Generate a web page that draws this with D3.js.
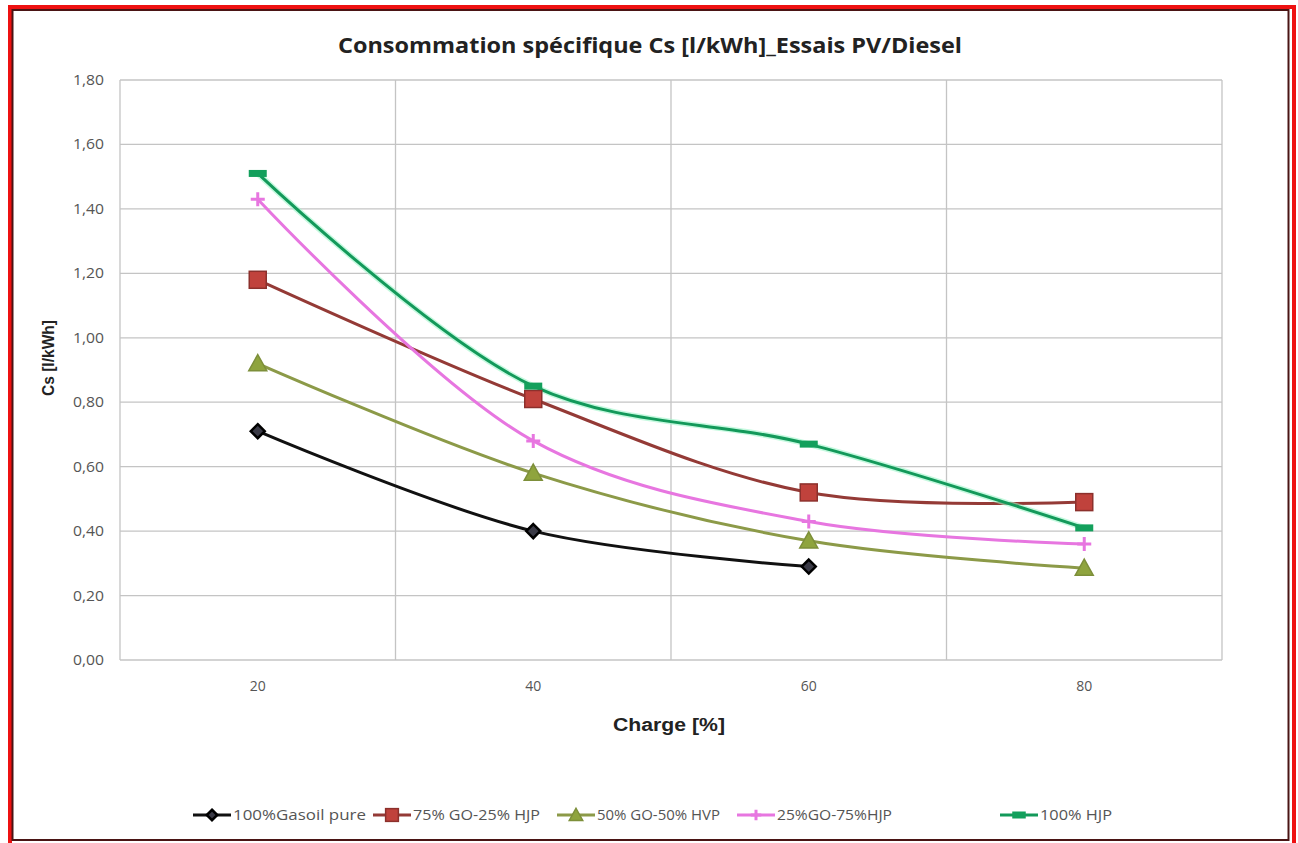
<!DOCTYPE html>
<html>
<head>
<meta charset="utf-8">
<script src="https://cdn.jsdelivr.net/npm/d3@7"></script>
<style>
  body { margin: 0; background: #fff; }
  text { font-family: "Open Sans", "Liberation Sans", sans-serif; }
</style>
</head>
<body>
<div id="chart"></div>
<script>
// data
var categories = ["20", "40", "60", "80"];
var yTicks = [0, 0.2, 0.4, 0.6, 0.8, 1.0, 1.2, 1.4, 1.6, 1.8];
var seriesNames = ["100%Gasoil pure", "75% GO-25% HJP", "50% GO-50% HVP", "25%GO-75%HJP", "100% HJP"];
var gasoil = [0.71, 0.40, 0.29];
var go75 = [1.18, 0.81, 0.52, 0.49];
var go50 = [0.92, 0.58, 0.37, 0.285];
var go25 = [1.43, 0.68, 0.43, 0.36];
var hjp100 = [1.51, 0.85, 0.67, 0.41];

var W = 1298, H = 843;
var plot = {left: 120, right: 1222, top: 80, bottom: 660};

var svg = d3.select("#chart").append("svg")
  .attr("width", W)
  .attr("height", H);

svg.append("rect").attr("width", W).attr("height", H).attr("fill", "#fff");

// frame
svg.append("rect")
  .attr("x", 10).attr("y", 7).attr("width", 1284).attr("height", 838)
  .attr("fill", "none").attr("stroke", "#ee1111").attr("stroke-width", 4);
svg.append("rect")
  .attr("x", 12.5).attr("y", 10).attr("width", 1276).attr("height", 830)
  .attr("fill", "none").attr("stroke", "#4a1414").attr("stroke-width", 2);

var x = d3.scaleBand()
  .domain(categories)
  .range([plot.left, plot.right])
  .padding(0);

var y = d3.scaleLinear()
  .domain([0, 1.8])
  .range([plot.bottom, plot.top]);

var fmt = function(d) { return d3.format(".2f")(d).replace(".", ","); };

// horizontal grid
svg.append("g")
  .selectAll("line")
  .data(yTicks)
  .enter()
  .append("line")
    .attr("x1", plot.left)
    .attr("x2", plot.right)
    .attr("y1", function(d) { return y(d); })
    .attr("y2", function(d) { return y(d); })
    .attr("stroke", "#c4c4c4")
    .attr("stroke-width", 1.3);

// vertical grid at category boundaries
var bounds = categories.map(function(c) { return x(c); }).concat([x(categories[categories.length - 1]) + x.bandwidth()]);
svg.append("g")
  .selectAll("line")
  .data(bounds)
  .enter()
  .append("line")
    .attr("x1", function(d) { return d; })
    .attr("x2", function(d) { return d; })
    .attr("y1", plot.top)
    .attr("y2", plot.bottom)
    .attr("stroke", "#c4c4c4")
    .attr("stroke-width", 1.3);

// Y axis
var yAxis = svg.append("g")
  .attr("transform", "translate(" + plot.left + ",0)")
  .attr("font-size", 14)
  .call(d3.axisLeft(y).tickValues(yTicks).tickFormat(fmt).tickSize(0).tickPadding(16));
yAxis.select(".domain").remove();
yAxis.selectAll("text")
  .attr("fill", "#555")
  .style("font-size", "14px")
  .attr("textLength", 31)
  .attr("lengthAdjust", "spacingAndGlyphs");

// X axis
var xAxis = svg.append("g")
  .attr("transform", "translate(0," + plot.bottom + ")")
  .call(d3.axisBottom(x).tickSize(0).tickPadding(21));
xAxis.select(".domain").remove();
xAxis.selectAll("text")
  .attr("fill", "#555")
  .style("font-size", "14px");

// title
svg.append("text")
  .attr("x", 650)
  .attr("y", 53)
  .attr("text-anchor", "middle")
  .attr("font-weight", "bold")
  .attr("fill", "#222")
  .style("font-size", "21px")
  .attr("textLength", 624)
  .attr("lengthAdjust", "spacingAndGlyphs")
  .text("Consommation spécifique Cs [l/kWh]_Essais PV/Diesel");

// axis titles
svg.append("text")
  .attr("x", 669)
  .attr("y", 731)
  .attr("text-anchor", "middle")
  .attr("font-weight", "bold")
  .attr("fill", "#222")
  .style("font-family", "'Liberation Sans', Arial, sans-serif")
  .style("font-size", "18px")
  .attr("textLength", 112)
  .attr("lengthAdjust", "spacingAndGlyphs")
  .text("Charge [%]");

svg.append("text")
  .attr("transform", "translate(54,358)rotate(-90)")
  .attr("text-anchor", "middle")
  .attr("font-weight", "bold")
  .attr("fill", "#222")
  .style("font-family", "'Liberation Sans', Arial, sans-serif")
  .style("font-size", "16px")
  .attr("textLength", 76)
  .attr("lengthAdjust", "spacingAndGlyphs")
  .text("Cs [l/kWh]");

var series = [
  {name: seriesNames[0], values: gasoil, line: "#111111", fill: "#3a3a46", stroke: "#000", marker: "diamond"},
  {name: seriesNames[1], values: go75, line: "#943a36", fill: "#c0423c", stroke: "#8c302c", marker: "square"},
  {name: seriesNames[2], values: go50, line: "#8c9a48", fill: "#8fa43e", stroke: "#7d8f3a", marker: "triangle"},
  {name: seriesNames[3], values: go25, line: "#e776e0", fill: "#e776e0", stroke: "#e776e0", marker: "plus"},
  {name: seriesNames[4], values: hjp100, line: "#13995a", fill: "#13a05c", stroke: "#13a05c", marker: "dash"}
];

var cx = function(i) { return x(categories[i]) + x.bandwidth() / 2; };

var line = d3.line()
  .x(function(d, i) { return cx(i); })
  .y(function(d) { return y(d); })
  .curve(d3.curveCatmullRom);

function drawMarker(g, s, px, py, scale) {
  var k = scale || 1;
  if (s.marker === "diamond") {
    var r = 7 * k;
    g.append("path")
      .attr("d", "M" + px + "," + (py - r) + "L" + (px + r) + "," + py + "L" + px + "," + (py + r) + "L" + (px - r) + "," + py + "Z")
      .attr("fill", s.fill).attr("stroke", s.stroke).attr("stroke-width", 2.5);
  } else if (s.marker === "square") {
    var h = 8.5 * k;
    g.append("rect")
      .attr("x", px - h).attr("y", py - h).attr("width", 2 * h).attr("height", 2 * h)
      .attr("fill", s.fill).attr("stroke", s.stroke).attr("stroke-width", 1.5);
  } else if (s.marker === "triangle") {
    var t = 9 * k;
    g.append("path")
      .attr("d", "M" + px + "," + (py - t) + "L" + (px + t) + "," + (py + t * 0.8) + "L" + (px - t) + "," + (py + t * 0.8) + "Z")
      .attr("fill", s.fill).attr("stroke", s.stroke).attr("stroke-width", 1.5);
  } else if (s.marker === "plus") {
    var p = 7 * k;
    g.append("path")
      .attr("d", "M" + (px - p) + "," + py + "H" + (px + p) + "M" + px + "," + (py - p) + "V" + (py + p))
      .attr("stroke", s.stroke).attr("stroke-width", 3).attr("fill", "none");
  } else if (s.marker === "dash") {
    var dw = 9 * k;
    g.append("rect")
      .attr("x", px - dw).attr("y", py - 3.5).attr("width", 2 * dw).attr("height", 7)
      .attr("fill", s.fill);
  }
}

var lines = svg.append("g");
series.forEach(function(s) {
  if (s.marker === "dash") {
    lines.append("path")
      .datum(s.values)
      .attr("d", line)
      .attr("fill", "none")
      .attr("stroke", "#9ff5c9")
      .attr("stroke-width", 6)
      .attr("opacity", 0.6);
  }
  lines.append("path")
    .datum(s.values)
    .attr("d", line)
    .attr("fill", "none")
    .attr("stroke", s.line)
    .attr("stroke-width", 3);
});

var marks = svg.append("g");
series.forEach(function(s) {
  s.values.forEach(function(v, i) {
    drawMarker(marks, s, cx(i), y(v));
  });
});

// legend
var legendX = [193, 373, 557, 737, 1000];
var legendW = [133, 127, 123, 115, 72];
var legend = svg.append("g");
series.forEach(function(s, i) {
  var lx = legendX[i], ly = 815;
  legend.append("line")
    .attr("x1", lx).attr("x2", lx + 38)
    .attr("y1", ly).attr("y2", ly)
    .attr("stroke", s.line).attr("stroke-width", 3);
  drawMarker(legend, s, lx + 19, ly, 0.75);
  legend.append("text")
    .attr("x", lx + 40)
    .attr("y", ly + 5)
    .attr("fill", "#555")
    .style("font-size", "15px")
    .attr("textLength", legendW[i])
    .attr("lengthAdjust", "spacingAndGlyphs")
    .text(s.name);
});
</script>
</body>
</html>
